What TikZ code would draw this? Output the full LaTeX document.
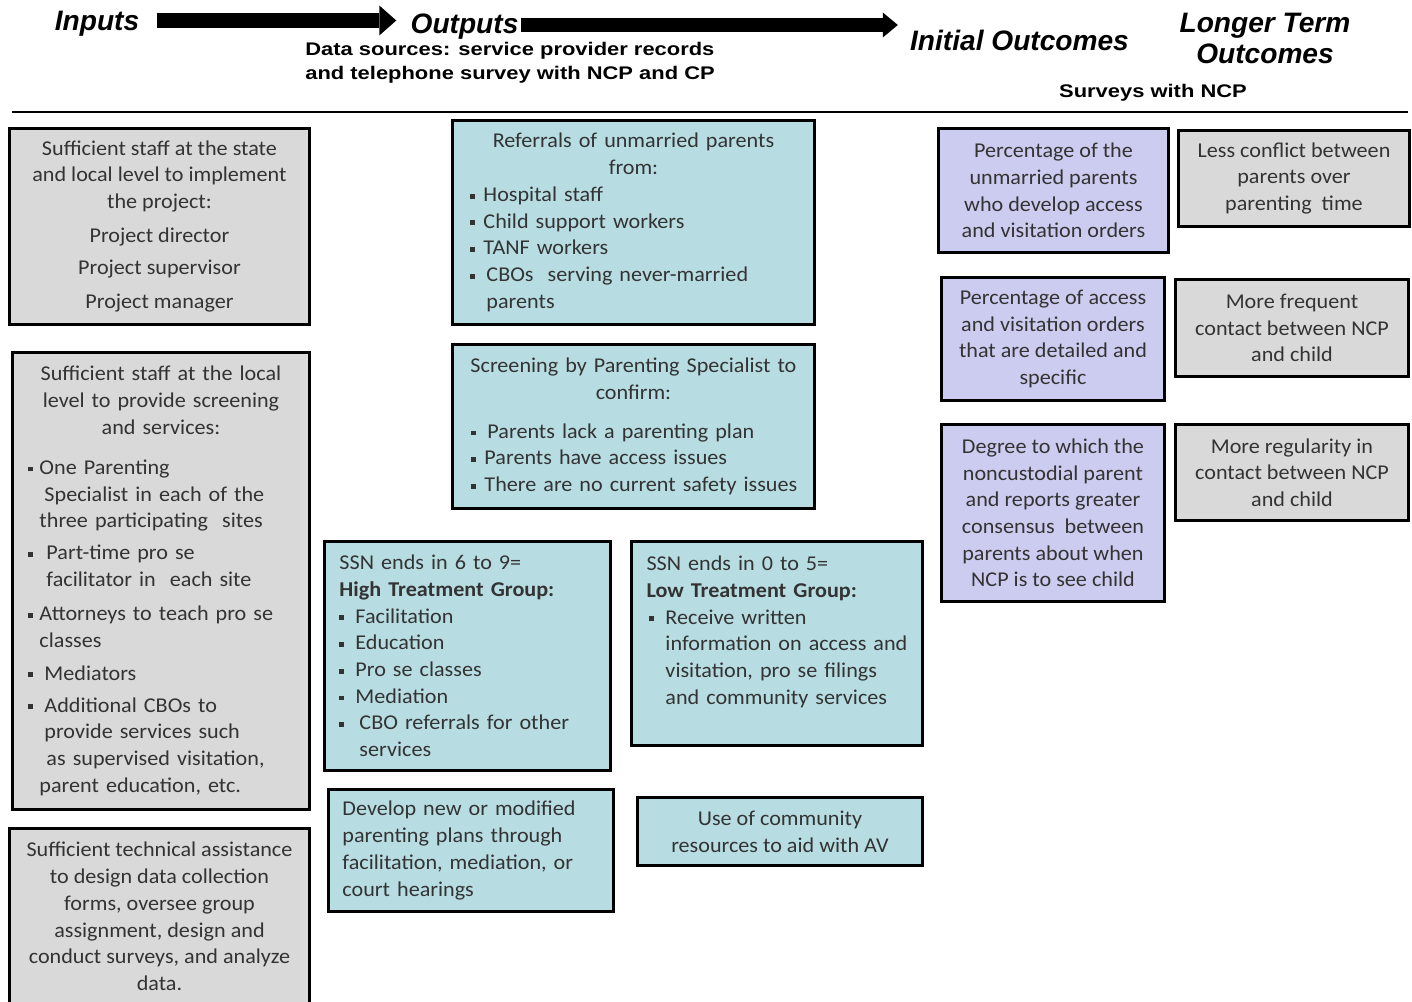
\documentclass[tikz,border=0pt]{standalone}
\usepackage{fontspec}
\setmainfont{Carlito}[FakeStretch=1.05]
\newfontfamily\hdrfont{Liberation Sans}
\newfontfamily\srcfont{Liberation Sans}[FakeStretch=1.2]
\usetikzlibrary{arrows.meta}

\definecolor{ingray}{RGB}{217,217,217}
\definecolor{outteal}{RGB}{183,221,226}
\definecolor{initlav}{RGB}{204,204,240}

% bullet, centred line, bullet item, continued line
\newcommand{\sqb}{\raisebox{1.6pt}{\rule{2.8pt}{2.8pt}}}
\newcommand{\ctl}[1]{\makebox[\linewidth][c]{#1}}
\newcommand{\itm}[2]{\makebox[#1][l]{\sqb}\makebox[0pt][l]{#2}}
\newcommand{\cnt}[2]{\hspace*{#1}\makebox[0pt][l]{#2}}

\tikzset{
  hdr/.style={font=\hdrfont\fontsize{16}{19}\selectfont\bfseries\itshape, inner sep=0pt, anchor=base},
  src/.style={font=\srcfont\fontsize{10.4}{12.5}\selectfont\bfseries, inner sep=0pt},
  panel/.style={draw=black, line width=1.7pt, anchor=north west, inner sep=0pt,
    text=black!80, font=\fontsize{12}{15.2}\selectfont},
  inpanel/.style={panel, fill=ingray},
  outpanel/.style={panel, fill=outteal},
  initpanel/.style={panel, fill=initlav, align=center},
  longpanel/.style={panel, fill=ingray, align=center},
  arrowa/.style={line width=8.5pt, -{Triangle[length=0.34cm 0, width=0.6cm 0, line width=0pt 0]}},
  arrowb/.style={line width=8pt, -{Triangle[length=0.3cm 0, width=0.5cm 0, line width=0pt 0]}}
}

\begin{document}
\begin{tikzpicture}[x=0.02cm,y=-0.02cm]
\path[fill=white, use as bounding box] (0,0) rectangle (1412,1001);

% headings
\node[hdr] (inputs) at (97,30) {Inputs};
\node[hdr] (outputs) at (464.5,33) {Outputs};
\node[hdr] (initial) at (1019.5,50) {Initial Outcomes};
\node[hdr] (longer) at (1265,32) {Longer Term};
\node[hdr] (longer2) at (1265,63) {Outcomes};
\node[src, anchor=base west] (datasrc) at (305,55) {Data sources: service provider records};
\node[src, anchor=base west] (datasrc2) at (305,79.5) {and telephone survey with NCP and CP};
\node[src, anchor=base] (surveys) at (1153,97) {Surveys with NCP};
\draw[arrowa, shorten <=0.34cm, shorten >=0.28cm] (inputs.east |- 0,20.5) -- (outputs.west |- 0,20.5);
\draw[arrowb, shorten <=0.04cm, shorten >=0.24cm] (outputs.east |- 0,25) -- (initial.west |- 0,25);
\draw[line width=1.7pt] (12,112) -- (1408,112);

% inputs
\node[inpanel, align=center, minimum width=6cm, minimum height=3.92cm] (staff) at (8,127)
  {Sufficient staff at the state\\and local level to implement\\the project:\\[4.2pt]Project director\\[3pt]Project supervisor\\[4.2pt]Project manager};
\node[inpanel, align=left, text width=5.3cm, inner xsep=0.32cm, minimum height=9.14cm] (localstaff) at (11,351)
  {\ctl{Sufficient staff at the local}\\
   \ctl{level to provide screening}\\
   \ctl{and services:}\\[7.6pt]
   \itm{0.22cm}{One Parenting}\\
   \cnt{0.32cm}{Specialist in each of the}\\
   \cnt{0.22cm}{three participating\ \ sites}\\[3pt]
   \itm{0.36cm}{Part-time pro se}\\
   \cnt{0.36cm}{facilitator in\ \ each site}\\[4.2pt]
   \itm{0.22cm}{Attorneys to teach pro se}\\
   \cnt{0.22cm}{classes}\\[3.6pt]
   \itm{0.32cm}{Mediators}\\[3pt]
   \itm{0.32cm}{Additional CBOs to}\\
   \cnt{0.32cm}{provide services such}\\
   \cnt{0.36cm}{as supervised visitation,}\\
   \cnt{0.22cm}{parent education, etc.}};
\node[inpanel, align=center, minimum width=6cm, minimum height=3.52cm] (techhelp) at (8,827)
  {Sufficient technical assistance\\to design data collection\\forms, oversee group\\assignment, design and\\conduct surveys, and analyze\\data.};

% outputs
\node[outpanel, align=left, text width=6.52cm, inner xsep=0.36cm, minimum height=4.08cm] (referrals) at (451,119)
  {\ctl{Referrals of unmarried parents}\\
   \ctl{from:}\\
   \itm{0.26cm}{Hospital staff}\\
   \itm{0.26cm}{Child support workers}\\
   \itm{0.26cm}{TANF workers}\\
   \itm{0.32cm}{CBOs\ \ serving never-married}\\
   \cnt{0.32cm}{parents}};
\node[outpanel, align=left, text width=6.48cm, inner xsep=0.38cm, minimum height=3.28cm] (screening) at (451,343)
  {\ctl{Screening by Parenting Specialist to}\\
   \ctl{confirm:}\\[7pt]
   \itm{0.32cm}{Parents lack a parenting plan}\\
   \itm{0.26cm}{Parents have access issues}\\
   \itm{0.26cm}{There are no current safety issues}};
\node[outpanel, align=left, text width=5.12cm, inner xsep=0.3cm, minimum height=4.58cm] (hightreat) at (323,540)
  {\cnt{0pt}{SSN ends in 6 to 9=}\\
   \cnt{0pt}{\bfseries High Treatment Group:}\\
   \itm{0.32cm}{Facilitation}\\
   \itm{0.32cm}{Education}\\
   \itm{0.32cm}{Pro se classes}\\
   \itm{0.32cm}{Mediation}\\
   \itm{0.4cm}{CBO referrals for other}\\
   \cnt{0.4cm}{services}};
\node[outpanel, align=left, text width=5.22cm, inner xsep=0.3cm, minimum height=4.08cm] (lowtreat) at (630,540)
  {\cnt{0pt}{SSN ends in 0 to 5=}\\
   \cnt{0pt}{\bfseries Low Treatment Group:}\\
   \hspace*{0.06cm}\itm{0.32cm}{Receive written}\\
   \cnt{0.38cm}{information on access and}\\
   \cnt{0.38cm}{visitation, pro se filings}\\
   \cnt{0.38cm}{and community services}\\
   \mbox{}};
\node[outpanel, align=left, text width=5.14cm, inner xsep=0.28cm, minimum height=2.44cm] (newplans) at (327,788)
  {\cnt{0pt}{Develop new or modified}\\
   \cnt{0pt}{parenting plans through}\\
   \cnt{0pt}{facilitation, mediation, or}\\
   \cnt{0pt}{court hearings}};
\node[outpanel, align=center, minimum width=5.7cm, minimum height=1.36cm] (community) at (636,796)
  {Use of community\\resources to aid with AV};

% initial outcomes
\node[initpanel, minimum width=4.6cm, minimum height=2.48cm] (avorders) at (937,127)
  {Percentage of the\\unmarried parents\\who develop access\\and visitation orders};
\node[initpanel, minimum width=4.46cm, minimum height=2.46cm] (detailed) at (940,276)
  {Percentage of access\\and visitation orders\\that are detailed and\\specific};
\node[initpanel, minimum width=4.46cm, minimum height=3.54cm] (consensus) at (940,423)
  {Degree to which the\\noncustodial parent\\and reports greater\\consensus\ \ between\\parents about when\\NCP is to see child};

% longer term outcomes
\node[longpanel, minimum width=4.62cm, minimum height=1.92cm] (lessconflict) at (1177,129)
  {Less conflict between\\parents over\\parenting\ \ time};
\node[longpanel, minimum width=4.66cm, minimum height=1.94cm] (frequent) at (1174,278)
  {More frequent\\contact between NCP\\and child};
\node[longpanel, minimum width=4.66cm, minimum height=1.92cm] (regular) at (1174,423)
  {More regularity in\\contact between NCP\\and child};
\end{tikzpicture}
\end{document}
